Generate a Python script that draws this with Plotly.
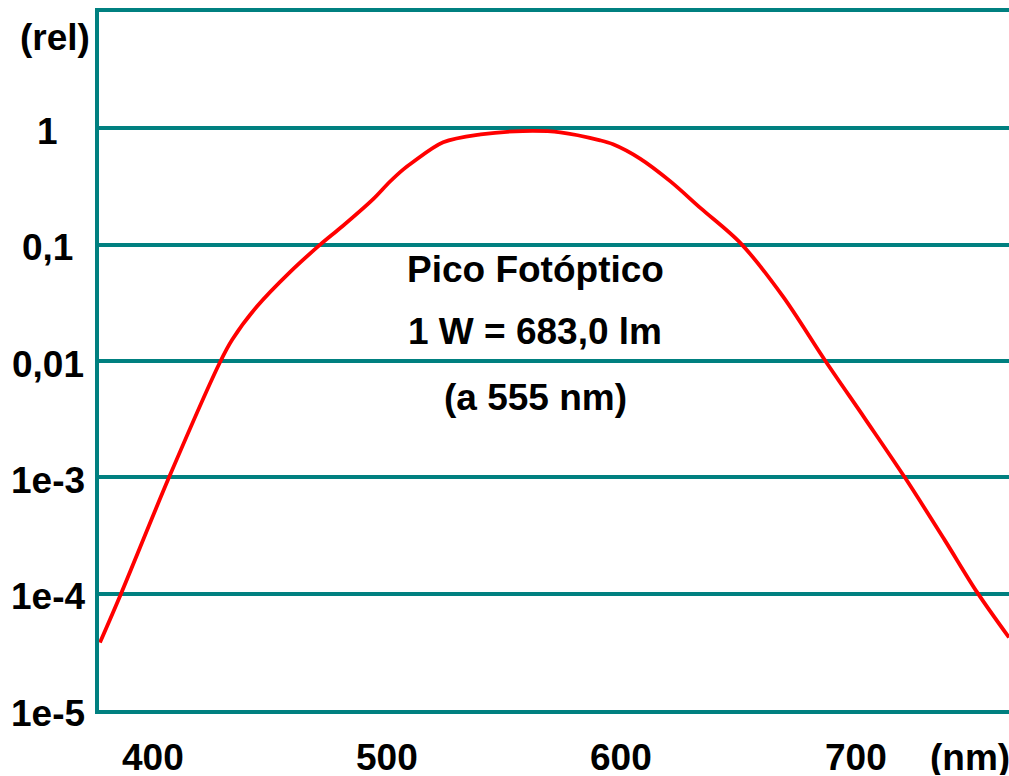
import plotly.graph_objects as go
import numpy as np

# Curve data
wavelength_nm = [377.5, 386.5, 407, 429, 434, 444.5, 458.5, 471.5, 481, 494, 501, 507, 511,
                 524, 540, 558, 574, 591, 596.5, 608, 621, 634, 651, 669, 687, 704, 721,
                 738, 752, 765.5]
rel_value = [3.8e-5, 1.0e-4, 1.0e-3, 1.0e-2, 1.53e-2, 2.94e-2, 5.78e-2, 0.100, 0.144, 0.245,
             0.344, 0.444, 0.511, 0.759, 0.887, 0.948, 0.925, 0.789, 0.73, 0.55, 0.35, 0.205,
             0.1026, 0.0359, 0.0101, 3.2e-3, 1.0e-3, 2.9e-4, 1.02e-4, 4.2e-5]

x_tick_vals = [400, 500, 600, 700]
x_tick_text = ["400", "500", "600", "700"]
y_tick_vals = [1, 0.1, 0.01, 1e-3, 1e-4, 1e-5]
y_tick_text = ["1", "0,1", "0,01", "1e-3", "1e-4", "1e-5"]
annotation_lines = ["Pico Fotóptico", "1 W = 683,0 lm", "(a 555 nm)"]

TEAL = "#008080"
FONT = "Liberation Sans, Arial, sans-serif"
FS = 37

W, H = 1009, 776
L, R, T, B = 99, 0, 12, 66
pw, ph = W - L - R, H - T - B

fig = go.Figure()
fig.add_trace(go.Scatter(
    x=wavelength_nm, y=rel_value, mode="lines",
    line=dict(color="#ff0000", width=3.8, shape="spline", smoothing=0.9),
    hoverinfo="skip", showlegend=False, cliponaxis=True,
))

fig.update_layout(
    width=W, height=H,
    margin=dict(l=L, r=R, t=T, b=B, pad=0),
    paper_bgcolor="white", plot_bgcolor="white",
    showlegend=False,
    xaxis=dict(range=[377.1, 765.5], showgrid=False, zeroline=False,
               showticklabels=False, ticks="",
               showline=True, mirror=True, linecolor=TEAL, linewidth=3.5),
    yaxis=dict(type="log", range=[-5, 1], showgrid=True, gridcolor=TEAL, gridwidth=3.5,
               tickvals=y_tick_vals + [10], showticklabels=False, ticks="",
               zeroline=False, showline=True, mirror=False, linecolor=TEAL, linewidth=3.5),
)

def px_to_paper_x(px):
    return (px - L) / pw

def px_to_paper_y(py):
    return (H - B - py) / ph

font = dict(family=FONT, size=FS, color="black")
bold = lambda s: f"<b>{s}</b>"

for v, t in zip(y_tick_vals, y_tick_text):
    fig.add_annotation(x=px_to_paper_x(47.5), xref="paper", y=np.log10(v), yref="y",
                       text=bold(t), showarrow=False, xanchor="center", yanchor="middle",
                       font=font, yshift=-3)
fig.add_annotation(x=px_to_paper_x(55), xref="paper", y=px_to_paper_y(37), yref="paper",
                   text=bold("(rel)"), showarrow=False, xanchor="center", yanchor="middle",
                   font=font)

for v, t in zip(x_tick_vals, x_tick_text):
    fig.add_annotation(x=v, xref="x", y=px_to_paper_y(757), yref="paper",
                       text=bold(t), showarrow=False, xanchor="center", yanchor="middle",
                       font=font, height=36, valign="middle", borderpad=0)
fig.add_annotation(x=px_to_paper_x(970), xref="paper", y=px_to_paper_y(757), yref="paper",
                   text=bold("(nm)"), showarrow=False, xanchor="center", yanchor="middle",
                   font=font, height=36, valign="middle", borderpad=0)

for ypix, t in zip([269, 331, 397], annotation_lines):
    fig.add_annotation(x=px_to_paper_x(535), xref="paper", y=px_to_paper_y(ypix), yref="paper",
                       text=bold(t), showarrow=False, xanchor="center", yanchor="middle",
                       font=font)

fig.write_html(
    "out.html",
    config={"displayModeBar": False},
    post_script="document.body.style.margin='0';document.body.style.overflow='hidden';",
)
